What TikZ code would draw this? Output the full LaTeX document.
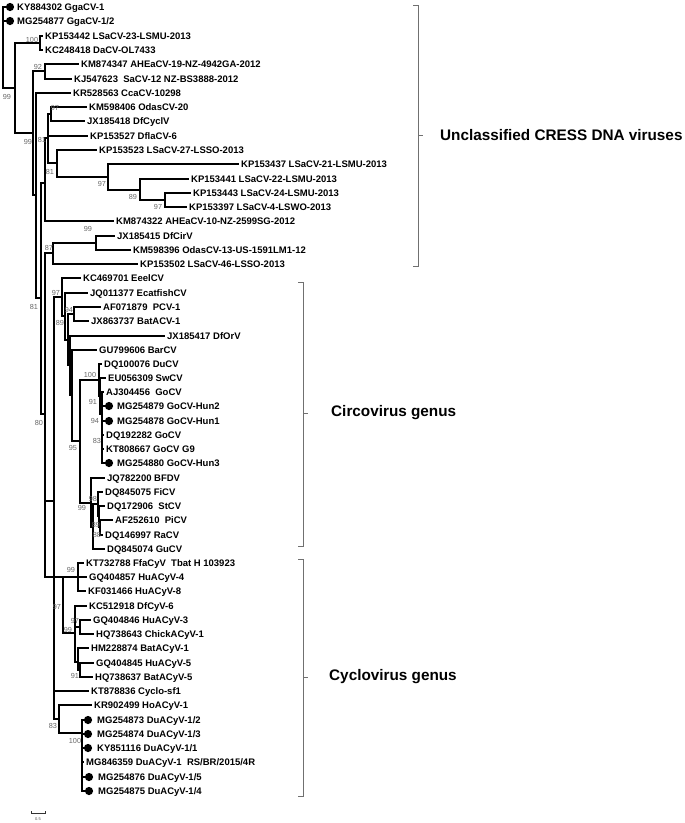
\documentclass[tikz,border=0pt]{standalone}
\usepackage{fontspec}
\setmainfont{Liberation Sans}
\definecolor{bsgray}{HTML}{666666}
\definecolor{brgray}{HTML}{707070}
\newcommand\leaffont{\bfseries\fontsize{9.5}{10}\selectfont}
\newcommand\bsfont{\fontsize{7.3}{8}\selectfont}
\newcommand\grpfont{\bfseries\fontsize{15.3}{17}\selectfont}
\begin{document}
\begin{tikzpicture}[x=1pt,y=-1pt,
  tl/.style={draw=black, line width=1.15pt},
  leaf/.style={anchor=west, inner xsep=2.5pt, inner ysep=0pt, text height=6.8pt, text depth=0pt, font=\leaffont},
  dotn/.style={circle, fill=black, draw=none, minimum size=8.2pt, inner sep=0pt},
  bs/.style={font=\bsfont, text=bsgray, inner sep=0pt},
  brk/.style={draw=brgray, line width=0.8pt},
  grp/.style={anchor=west, font=\grpfont, inner sep=0pt}]
\useasboundingbox (0,0) rectangle (685,823);

% ---------- leaves ----------
\node[dotn] (d1) at (10,7) {};   \node[leaf] (l1) at (14.5,7) {KY884302 GgaCV-1};
\node[dotn] (d2) at (10,21) {};  \node[leaf] (l2) at (14.5,21) {MG254877 GgaCV-1/2};
\node[leaf] (l3) at (42.5,36) {KP153442 LSaCV-23-LSMU-2013};
\node[leaf] (l4) at (42.5,50) {KC248418 DaCV-OL7433};
\node[leaf] (l5) at (78.5,64) {KM874347 AHEaCV-19-NZ-4942GA-2012};
\node[leaf] (l6) at (71.5,79) {KJ547623~ SaCV-12 NZ-BS3888-2012};
\node[leaf] (l7) at (70.5,93) {KR528563 CcaCV-10298};
\node[leaf] (l8) at (86.5,107) {KM598406 OdasCV-20};
\node[leaf] (l9) at (84.5,121) {JX185418 DfCyclV};
\node[leaf] (l10) at (87.5,136) {KP153527 DflaCV-6};
\node[leaf] (l11) at (96.5,150) {KP153523 LSaCV-27-LSSO-2013};
\node[leaf] (l12) at (238.5,164) {KP153437 LSaCV-21-LSMU-2013};
\node[leaf] (l13) at (188.5,179) {KP153441 LSaCV-22-LSMU-2013};
\node[leaf] (l14) at (190.5,193) {KP153443 LSaCV-24-LSMU-2013};
\node[leaf] (l15) at (186.5,207) {KP153397 LSaCV-4-LSWO-2013};
\node[leaf] (l16) at (113.5,221) {KM874322 AHEaCV-10-NZ-2599SG-2012};
\node[leaf] (l17) at (114.5,236) {JX185415 DfCirV};
\node[leaf] (l18) at (130.5,250) {KM598396 OdasCV-13-US-1591LM1-12};
\node[leaf] (l19) at (137.5,264) {KP153502 LSaCV-46-LSSO-2013};
\node[leaf] (l20) at (80.5,278) {KC469701 EeelCV};
\node[leaf] (l21) at (87.5,293) {JQ011377 EcatfishCV};
\node[leaf] (l22) at (100.5,307) {AF071879~ PCV-1};
\node[leaf] (l23) at (88.5,321) {JX863737 BatACV-1};
\node[leaf] (l24) at (164.5,336) {JX185417 DfOrV};
\node[leaf] (l25) at (96.5,350) {GU799606 BarCV};
\node[leaf] (l26) at (101.5,364) {DQ100076 DuCV};
\node[leaf] (l27) at (105.5,378) {EU056309 SwCV};
\node[leaf] (l28) at (103.5,392) {AJ304456~ GoCV};
\node[dotn] (d29) at (109,406) {}; \node[leaf] (l29) at (114.5,406) {MG254879 GoCV-Hun2};
\node[dotn] (d30) at (109,421) {}; \node[leaf] (l30) at (114.5,421) {MG254878 GoCV-Hun1};
\node[leaf] (l31) at (103.5,435) {DQ192282 GoCV};
\node[leaf] (l32) at (103.5,449) {KT808667 GoCV G9};
\node[dotn] (d33) at (109,463) {}; \node[leaf] (l33) at (114.5,463) {MG254880 GoCV-Hun3};
\node[leaf] (l34) at (104.5,478) {JQ782200 BFDV};
\node[leaf] (l35) at (102.5,492) {DQ845075 FiCV};
\node[leaf] (l36) at (104.5,506) {DQ172906~ StCV};
\node[leaf] (l37) at (112.5,520) {AF252610~ PiCV};
\node[leaf] (l38) at (102.5,535) {DQ146997 RaCV};
\node[leaf] (l39) at (104.5,549) {DQ845074 GuCV};
\node[leaf] (l40) at (83.5,563) {KT732788 FfaCyV~ Tbat H 103923};
\node[leaf] (l41) at (86.5,577) {GQ404857 HuACyV-4};
\node[leaf] (l42) at (85.5,591) {KF031466 HuACyV-8};
\node[leaf] (l43) at (86.5,606) {KC512918 DfCyV-6};
\node[leaf] (l44) at (90.5,620) {GQ404846 HuACyV-3};
\node[leaf] (l45) at (93.5,634) {HQ738643 ChickACyV-1};
\node[leaf] (l46) at (88.5,648) {HM228874 BatACyV-1};
\node[leaf] (l47) at (93.5,663) {GQ404845 HuACyV-5};
\node[leaf] (l48) at (92.5,677) {HQ738637 BatACyV-5};
\node[leaf] (l49) at (88.5,691) {KT878836 Cyclo-sf1};
\node[leaf] (l50) at (91.5,705) {KR902499 HoACyV-1};
\node[dotn] (d51) at (88,720) {}; \node[leaf] (l51) at (94.5,720) {MG254873 DuACyV-1/2};
\node[dotn] (d52) at (88,734) {}; \node[leaf] (l52) at (94.5,734) {MG254874 DuACyV-1/3};
\node[dotn] (d53) at (88,748) {}; \node[leaf] (l53) at (94.5,748) {KY851116 DuACyV-1/1};
\node[leaf] (l54) at (83.5,762) {MG846359 DuACyV-1~ RS/BR/2015/4R};
\node[dotn] (d55) at (89,777) {}; \node[leaf] (l55) at (95.5,777) {MG254876 DuACyV-1/5};
\node[dotn] (d56) at (89,791) {}; \node[leaf] (l56) at (95.5,791) {MG254875 DuACyV-1/4};

% ---------- internal nodes ----------
\coordinate (R) at (3,47);
\coordinate (N1) at (15,88);
\coordinate (C100) at (40,43);
\coordinate (N2) at (33,133);
\coordinate (N92) at (45,71);
\coordinate (N3) at (36,195);
\coordinate (N5) at (41,298);
\coordinate (N4) at (45,183);
\coordinate (N48) at (48,138);
\coordinate (N97) at (51,114);
\coordinate (N57) at (57,163);
\coordinate (N108) at (108,177);
\coordinate (N140) at (140,190);
\coordinate (N165) at (165,200);
\coordinate (N87) at (53,253);
\coordinate (N99b) at (96,243);
\coordinate (N6) at (45,414);
\coordinate (P55) at (54,501);
\coordinate (Ncirc) at (62,297);
\coordinate (Nc1) at (65,316);
\coordinate (Nc2) at (68,340);
\coordinate (N94) at (74,314);
\coordinate (Nc3) at (70,365);
\coordinate (Nc4) at (72,395);
\coordinate (N95) at (80,441);
\coordinate (NG) at (99,380);
\coordinate (NG2) at (100,396);
\coordinate (NG3) at (102,414);
\coordinate (NB) at (91,503);
\coordinate (NB2) at (93,527);
\coordinate (N98) at (98,504);
\coordinate (N98b) at (99,516);
\coordinate (N89) at (100,527);
\coordinate (Ncya) at (63,577);
\coordinate (Ncy1) at (78,577);
\coordinate (Ncy2) at (75,633);
\coordinate (N97c) at (80,627);
\coordinate (Ncy4) at (78,662);
\coordinate (N91) at (80,670);
\coordinate (N83) at (59,719);
\coordinate (N100c) at (82,733);

% ---------- branches ----------
\foreach \p/\c in {R/d1.west, R/d2.west, R/N1,
  N1/C100, N1/N2, C100/l3.west, C100/l4.west,
  N2/N92, N2/N3, N92/l5.west, N92/l6.west,
  N3/l7.west, N3/N5, N5/N4, N5/N6,
  N4/N48, N4/l16.west, N48/N97, N48/l10.west, N48/N57,
  N97/l8.west, N97/l9.west, N57/l11.west, N57/N108,
  N108/l12.west, N108/N140, N140/l13.west, N140/N165,
  N165/l14.west, N165/l15.west,
  N6/N87, N6/P55, N6/Ncya,
  N87/N99b, N87/l19.west, N99b/l17.west, N99b/l18.west,
  P55/Ncirc, P55/l49.west, P55/N83,
  Ncirc/l20.west, Ncirc/Nc1, Nc1/l21.west, Nc1/Nc2,
  Nc2/N94, Nc2/Nc3, N94/l22.west, N94/l23.west,
  Nc3/l24.west, Nc3/Nc4, Nc4/l25.west, Nc4/N95,
  N95/NG, N95/NB, NG/l26.west, NG/NG2, NG2/l27.west, NG2/NG3,
  NG3/l28.west, NG3/d29.west, NG3/d30.west, NG3/l31.west, NG3/l32.west, NG3/d33.west,
  NB/l34.west, NB/NB2, NB2/N98, NB2/l39.west, N98/l35.west, N98/N98b,
  N98b/l36.west, N98b/N89, N89/l37.west, N89/l38.west,
  Ncya/Ncy1, Ncya/Ncy2,
  Ncy1/l40.west, Ncy1/l41.west, Ncy1/l42.west,
  Ncy2/l43.west, Ncy2/N97c, Ncy2/Ncy4,
  N97c/l44.west, N97c/l45.west, Ncy4/l46.west, Ncy4/N91,
  N91/l47.west, N91/l48.west,
  N83/l50.west, N83/N100c,
  N100c/d51.west, N100c/d52.west, N100c/d53.west, N100c/l54.west, N100c/d55.west, N100c/d56.west}
  \draw[tl] (\p) |- (\c);

% ---------- bootstrap values ----------
\node[bs] (b1) at (32,40) {100};
\node[bs] (b2) at (38,67) {92};
\node[bs] (b3) at (7,97) {99};
\node[bs] (b4) at (55,108) {97};
\node[bs] (b5) at (28,142) {99};
\node[bs] (b6) at (42,140) {81};
\node[bs] (b7) at (50,172) {81};
\node[bs] (b8) at (102,184) {97};
\node[bs] (b9) at (133,197) {89};
\node[bs] (b10) at (158,207) {97};
\node[bs] (b11) at (88,229) {99};
\node[bs] (b12) at (49,248) {87};
\node[bs] (b13) at (34,307) {81};
\node[bs] (b14) at (56,293) {97};
\node[bs] (b15) at (69,310) {94};
\node[bs] (b16) at (60,323) {89};
\node[bs] (b17) at (90,375) {100};
\node[bs] (b18) at (93,402) {91};
\node[bs] (b19) at (95,421) {94};
\node[bs] (b20) at (97,441) {83};
\node[bs] (b21) at (73,448) {95};
\node[bs] (b22) at (39,423) {80};
\node[bs] (b23) at (93,499) {98};
\node[bs] (b24) at (82,508) {99};
\node[bs] (b25) at (96,525) {89};
\node[bs] (b26) at (97,535) {88};
\node[bs] (b27) at (71,570) {99};
\node[bs] (b28) at (57,607) {97};
\node[bs] (b29) at (75,621) {97};
\node[bs] (b30) at (68,630) {99};
\node[bs] (b31) at (75,676) {91};
\node[bs] (b32) at (53,726) {83};
\node[bs] (b33) at (75,741) {100};

% ---------- group brackets ----------
\draw[brk] (413,5) -- (418,5) -- (418,266) -- (413,266);
\draw[brk] (418,135) -- (423,135);
\node[grp] (g1) at (440,135) {Unclassified CRESS DNA viruses};
\draw[brk] (298,282) -- (303,282) -- (303,546) -- (298,546);
\draw[brk] (303,413) -- (308,413);
\node[grp] (g2) at (331,413) {Circovirus genus};
\draw[brk] (298,559) -- (303,559) -- (303,796) -- (298,796);
\draw[brk] (303,677) -- (308,677);
\node[grp] (g3) at (329,677) {Cyclovirus genus};

% ---------- scale bar ----------
\draw[line width=0.6pt, draw=black!80] (31,811) -- (31,813) -- (45,813) -- (45,811);
\node[font=\fontsize{4}{4}\selectfont, text=black!70, inner sep=0pt] (sc) at (38,819) {0.5};
\end{tikzpicture}
\end{document}
